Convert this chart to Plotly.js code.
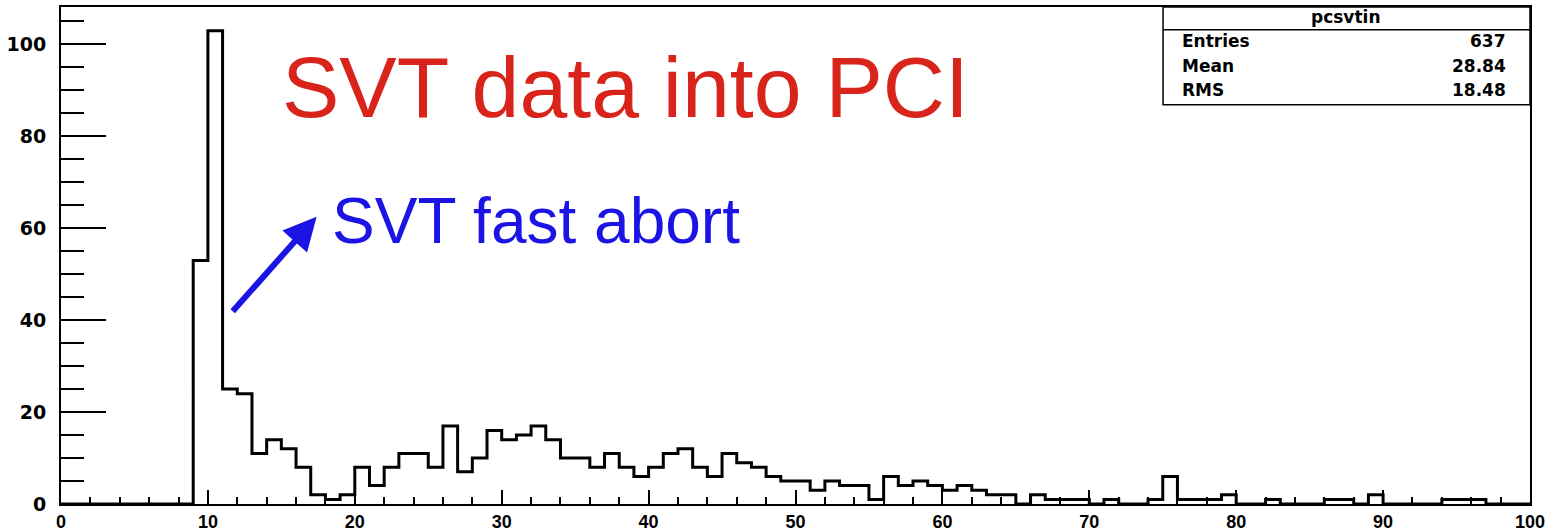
<!DOCTYPE html>
<html><head><meta charset="utf-8">
<script src="https://cdn.plot.ly/plotly-3.0.1.min.js"></script>
<style>html,body{margin:0;padding:0;background:#fff}#chart{width:1547px;height:531px}</style>
</head><body><div id="chart"></div>
<script>
// Histogram definition: 100 bins of width 1 from 0 to 100
const xMin = 0;
const binWidth = 1;
const counts = [
  0,0,0,0,0,0,0,0,0,53,
  103,25,24,11,14,12,8,2,1,2,
  8,4,8,11,11,8,17,7,10,16,
  14,15,17,14,10,10,8,11,8,6,
  8,11,12,8,6,11,9,8,6,5,
  5,3,5,4,4,1,6,4,5,4,
  3,4,3,2,2,0,2,1,1,1,
  0,1,0,0,1,6,1,1,1,2,
  0,0,1,0,0,0,1,1,0,2,
  0,0,0,0,1,1,1,0,0,0
];
const histName = "pcsvtin";
const statLabels = ["Entries", "Mean", "RMS"];
const statValues = ["637", "28.84", "18.48"];
const titleText = "SVT data into PCI";
const noteText = "SVT fast abort";

// step outline built from bin edges
const edges = counts.map((c, i) => xMin + i * binWidth);
edges.push(xMin + counts.length * binWidth);
const stepY = counts.concat([counts[counts.length - 1]]);

const yMax = Math.max(...counts) * 1.05;

const trace = {
  type: 'scatter', mode: 'lines',
  x: edges, y: stepY,
  line: {shape: 'hv', color: '#000', width: 3},
  hoverinfo: 'skip'
};

const tickFont = {family: 'Liberation Sans, Arial, sans-serif', size: 18, color: '#000', weight: 'bold'};
const yTickFont = {family: 'DejaVu Sans', size: 19, color: '#000', weight: 'bold'};
const statFont = {family: 'DejaVu Sans', size: 17, color: '#000', weight: 'bold'};

const annotations = [
  {xref: 'paper', yref: 'paper', x: 0.384, y: 0.8395, xanchor: 'center', yanchor: 'middle',
   text: titleText, showarrow: false,
   font: {family: 'Liberation Sans, Arial, sans-serif', size: 86, color: '#d8241b'}},
  {xref: 'paper', yref: 'paper', x: 0.3234, y: 0.5698, xanchor: 'center', yanchor: 'middle',
   text: noteText, showarrow: false,
   font: {family: 'Liberation Sans, Arial, sans-serif', size: 64, color: '#1b14e4'}},
  {xref: 'x', yref: 'y', axref: 'x', ayref: 'y', x: 17.4, y: 62.5, ax: 11.6, ay: 41.6,
   text: '', showarrow: true, arrowhead: 2, arrowsize: 1.1, arrowwidth: 6, arrowcolor: '#1b14e4',
   standoff: 0, startstandoff: 0},
  {xref: 'paper', yref: 'paper', x: 0.8748, y: 0.9805, xanchor: 'center', yanchor: 'middle',
   text: histName, showarrow: false, font: statFont}
];
const statYs = [0.9322, 0.8818, 0.8335];
statLabels.forEach((lab, i) => {
  annotations.push({xref: 'paper', yref: 'paper', x: 0.7618, y: statYs[i], xanchor: 'left', yanchor: 'middle',
    text: lab, showarrow: false, font: statFont});
  annotations.push({xref: 'paper', yref: 'paper', x: 0.985, y: statYs[i], xanchor: 'right', yanchor: 'middle',
    text: statValues[i], showarrow: false, font: statFont});
});

const layout = {
  width: 1547, height: 531,
  margin: {l: 61, r: 17, t: 7, b: 27, pad: 0},
  paper_bgcolor: '#fff', plot_bgcolor: '#fff',
  showlegend: false,
  xaxis: {
    range: [0, 100], tick0: 0, dtick: 10, ticks: 'inside', ticklen: 14, tickwidth: 2, tickcolor: '#000',
    showline: true, linecolor: '#000', linewidth: 2, mirror: true,
    showgrid: false, zeroline: false, tickfont: tickFont, ticklabelstandoff: 0,
    ticklabeloverflow: 'allow',
    minor: {dtick: 2, ticks: 'inside', ticklen: 7, tickwidth: 2, tickcolor: '#000', showgrid: false}
  },
  yaxis: {
    range: [0, yMax], tick0: 0, dtick: 20, ticks: 'inside', ticklen: 45, tickwidth: 2, tickcolor: '#000',
    showline: true, linecolor: '#000', linewidth: 2, mirror: true,
    showgrid: false, zeroline: false, tickfont: yTickFont, ticklabelstandoff: 9,
    minor: {dtick: 5, ticks: 'inside', ticklen: 23, tickwidth: 2, tickcolor: '#000', showgrid: false}
  },
  shapes: [
    {type: 'rect', xref: 'paper', yref: 'paper', x0: 0.7502, x1: 1.0, y0: 0.8033, y1: 1.0,
     line: {color: '#000', width: 1.5}, fillcolor: '#fff', layer: 'above'},
    {type: 'line', xref: 'paper', yref: 'paper', x0: 0.7502, x1: 1.0, y0: 0.9543, y1: 0.9543,
     line: {color: '#000', width: 1.5}, layer: 'above'}
  ],
  annotations: annotations
};

Plotly.newPlot('chart', [trace], layout, {displayModeBar: false, staticPlot: true});
</script>
</body></html>
